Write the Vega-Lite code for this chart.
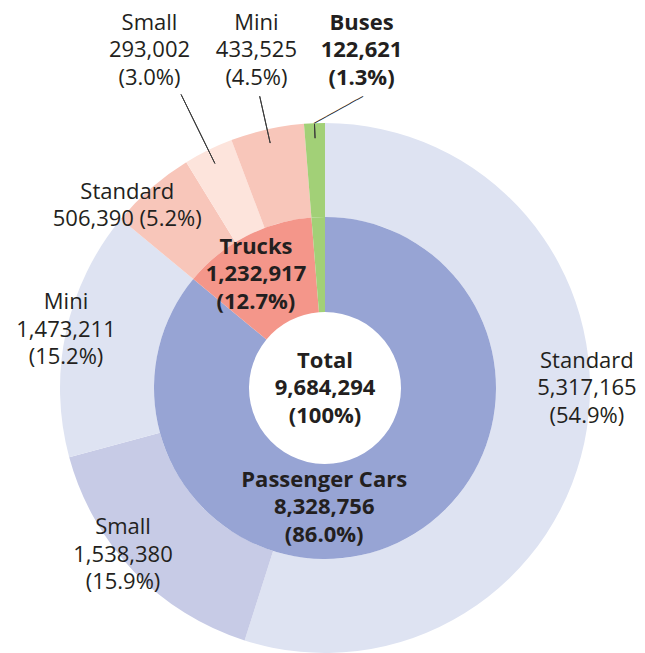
{
  "$schema": "https://vega.github.io/schema/vega-lite/v6.json",
  "width": 530,
  "height": 530,
  "autosize": {"type": "none"},
  "padding": {"left": 60, "top": 123, "right": 55, "bottom": 0},
  "background": "white",
  "config": {
    "view": {"stroke": null},
    "text": {"font": "Open Sans", "fontSize": 22, "lineHeight": 27.5, "color": "#231f20", "align": "center", "baseline": "middle", "lineBreak": "\n"}
  },
  "datasets": {
    "inner": [
      {"group": "Passenger Cars", "order": 1, "units": 8328756, "share": 86.0},
      {"group": "Trucks", "order": 2, "units": 1232917, "share": 12.7},
      {"group": "Buses", "order": 3, "units": 122621, "share": 1.3}
    ],
    "outer": [
      {"group": "Passenger Cars", "type": "Standard", "order": 1, "units": 5317165, "share": 54.9},
      {"group": "Passenger Cars", "type": "Small", "order": 2, "units": 1538380, "share": 15.9},
      {"group": "Passenger Cars", "type": "Mini", "order": 3, "units": 1473211, "share": 15.2},
      {"group": "Trucks", "type": "Standard", "order": 4, "units": 506390, "share": 5.2},
      {"group": "Trucks", "type": "Small", "order": 5, "units": 293002, "share": 3.0},
      {"group": "Trucks", "type": "Mini", "order": 6, "units": 433525, "share": 4.5},
      {"group": "Buses", "type": "Buses", "order": 7, "units": 122621, "share": 1.3}
    ]
  },
  "layer": [
    {
      "data": {"name": "outer"},
      "transform": [
        {"stack": "units", "groupby": [], "sort": [{"field": "order", "order": "ascending"}], "as": ["v0", "v1"]},
        {"calculate": "(datum.v0 + datum.v1) / 2", "as": "mid"},
        {"calculate": "datum.group + ' / ' + datum.type", "as": "key"},
        {"calculate": "datum.type + '\\n' + format(datum.units, ',') + '\\n(' + format(datum.share, '.1f') + '%)'", "as": "label3"},
        {"calculate": "datum.type + '\\n' + format(datum.units, ',') + ' (' + format(datum.share, '.1f') + '%)'", "as": "label2"}
      ],
      "layer": [
        {
          "mark": {"type": "arc", "innerRadius": 171, "outerRadius": 265},
          "encoding": {
            "theta": {"field": "v0", "type": "quantitative", "stack": null, "scale": {"nice": false, "zero": true, "domain": [0, 9684294]}},
            "theta2": {"field": "v1"},
            "color": {
              "field": "key", "type": "nominal", "legend": null,
              "scale": {
                "domain": ["Passenger Cars", "Trucks", "Buses", "Passenger Cars / Standard", "Passenger Cars / Small", "Passenger Cars / Mini", "Trucks / Standard", "Trucks / Small", "Trucks / Mini", "Buses / Buses"],
                "range": ["#97a4d4", "#f4968a", "#a2d077", "#dee3f2", "#c7cbe6", "#dee3f2", "#f8c6ba", "#fde4dc", "#f8c6ba", "#a2d077"]
              }
            }
          }
        },
        {
          "transform": [{"filter": "datum.group === 'Trucks' && datum.type === 'Small'"}],
          "mark": {"type": "arc", "innerRadius": 250, "outerRadius": 327, "filled": false, "color": "#3a3a3a", "strokeWidth": 1},
          "encoding": {"theta": {"field": "mid", "type": "quantitative"}, "theta2": {"field": "mid"}}
        },
        {
          "transform": [{"filter": "datum.group === 'Trucks' && datum.type === 'Mini'"}],
          "mark": {"type": "arc", "innerRadius": 251, "outerRadius": 299, "filled": false, "color": "#3a3a3a", "strokeWidth": 1},
          "encoding": {"theta": {"field": "mid", "type": "quantitative"}, "theta2": {"field": "mid"}}
        },
        {
          "transform": [{"filter": "datum.group === 'Buses'"}],
          "mark": {"type": "arc", "innerRadius": 250, "outerRadius": 264, "filled": false, "color": "#3a3a3a", "strokeWidth": 1},
          "encoding": {"theta": {"field": "mid", "type": "quantitative"}, "theta2": {"field": "mid"}}
        },
        {
          "transform": [{"filter": "datum.group === 'Buses'"}, {"calculate": "'────────'", "as": "leader"}],
          "mark": {"type": "text", "radius": 264, "align": "left", "baseline": "middle", "angle": 331, "font": "DejaVu Sans Mono", "fontSize": 11.6, "color": "#2a2a2a"},
          "encoding": {"theta": {"field": "mid", "type": "quantitative"}, "text": {"field": "leader"}}
        },
        {
          "transform": [{"filter": "datum.group === 'Passenger Cars' && datum.type === 'Standard'"}],
          "mark": {"type": "text", "radius": 262, "dx": 3, "dy": -67.5},
          "encoding": {"theta": {"field": "mid", "type": "quantitative"}, "text": {"field": "label3"}}
        },
        {
          "transform": [{"filter": "datum.group === 'Passenger Cars' && datum.type === 'Small'"}],
          "mark": {"type": "text", "radius": 263, "dx": -12, "dy": -42.5},
          "encoding": {"theta": {"field": "mid", "type": "quantitative"}, "text": {"field": "label3"}}
        },
        {
          "transform": [{"filter": "datum.group === 'Passenger Cars' && datum.type === 'Mini'"}],
          "mark": {"type": "text", "radius": 265, "dx": 0, "dy": -29.5},
          "encoding": {"theta": {"field": "mid", "type": "quantitative"}, "text": {"field": "label3"}}
        },
        {
          "transform": [{"filter": "datum.group === 'Trucks' && datum.type === 'Standard'"}],
          "mark": {"type": "text", "radius": 265, "dx": -24, "dy": 4},
          "encoding": {"theta": {"field": "mid", "type": "quantitative"}, "text": {"field": "label2"}}
        },
        {
          "transform": [{"filter": "datum.group === 'Trucks' && datum.type === 'Small'"}],
          "mark": {"type": "text", "radius": 376, "dx": -10, "dy": -27.5},
          "encoding": {"theta": {"field": "mid", "type": "quantitative"}, "text": {"field": "label3"}}
        },
        {
          "transform": [{"filter": "datum.group === 'Trucks' && datum.type === 'Mini'"}],
          "mark": {"type": "text", "radius": 346, "dx": 7, "dy": -27.5},
          "encoding": {"theta": {"field": "mid", "type": "quantitative"}, "text": {"field": "label3"}}
        },
        {
          "transform": [{"filter": "datum.group === 'Buses'"}],
          "mark": {"type": "text", "radius": 338, "dx": 50, "dy": -27.5, "fontWeight": "bold"},
          "encoding": {"theta": {"field": "mid", "type": "quantitative"}, "text": {"field": "label3"}}
        }
      ]
    },
    {
      "data": {"name": "inner"},
      "transform": [
        {"stack": "units", "groupby": [], "sort": [{"field": "order", "order": "ascending"}], "as": ["v0", "v1"]},
        {"calculate": "(datum.v0 + datum.v1) / 2", "as": "mid"},
        {"calculate": "datum.group", "as": "key"},
        {"calculate": "datum.group + '\\n' + format(datum.units, ',') + '\\n(' + format(datum.share, '.1f') + '%)'", "as": "label3"}
      ],
      "layer": [
        {
          "mark": {"type": "arc", "innerRadius": 76, "outerRadius": 171},
          "encoding": {
            "theta": {"field": "v0", "type": "quantitative", "stack": null},
            "theta2": {"field": "v1"},
            "color": {"field": "key", "type": "nominal", "legend": null}
          }
        },
        {
          "transform": [{"filter": "datum.group === 'Trucks'"}],
          "mark": {"type": "text", "radius": 128, "dx": -10, "dy": -27.5, "fontWeight": "bold"},
          "encoding": {"theta": {"field": "mid", "type": "quantitative"}, "text": {"field": "label3"}}
        },
        {
          "transform": [{"filter": "datum.group === 'Passenger Cars'"}],
          "mark": {"type": "text", "radius": 132, "dx": -57, "dy": -27.5, "fontWeight": "bold"},
          "encoding": {"theta": {"field": "mid", "type": "quantitative"}, "text": {"field": "label3"}}
        }
      ]
    },
    {
      "data": {"name": "inner"},
      "transform": [
        {"aggregate": [{"op": "sum", "field": "units", "as": "total"}, {"op": "sum", "field": "share", "as": "pct"}]},
        {"calculate": "'Total\\n' + format(datum.total, ',') + '\\n(' + format(datum.pct, '.0f') + '%)'", "as": "label"}
      ],
      "mark": {"type": "text", "fontWeight": "bold", "dy": -27.5},
      "encoding": {"text": {"field": "label"}}
    }
  ]
}
